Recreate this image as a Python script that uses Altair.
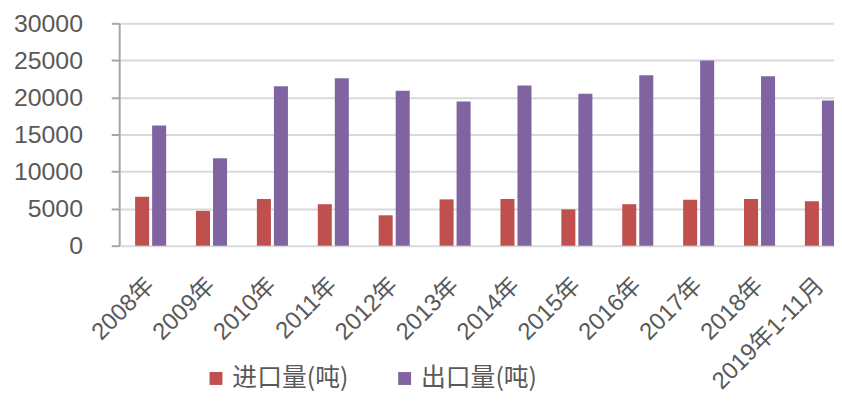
import altair as alt
import pandas as pd

categories = ["2008年", "2009年", "2010年", "2011年", "2012年", "2013年",
              "2014年", "2015年", "2016年", "2017年", "2018年", "2019年1-11月"]
imports = [6600, 4700, 6300, 5600, 4100, 6250, 6300, 4900, 5600, 6200, 6300, 6000]
exports = [16200, 11800, 21500, 22600, 20900, 19450, 21600, 20500, 23000, 25000, 22850, 19600]
series = ["进口量(吨)", "出口量(吨)"]
colors = ["#C0504D", "#8064A2"]
y_ticks = [0, 5000, 10000, 15000, 20000, 25000, 30000]

rows = []
for c, imp, exp in zip(categories, imports, exports):
    rows.append({"cat": c, "series": series[0], "value": imp})
    rows.append({"cat": c, "series": series[1], "value": exp})
df = pd.DataFrame(rows)

font = "Liberation Sans, Arial, Noto Sans CJK SC"

chart = alt.Chart(df).mark_bar().encode(
    x=alt.X("cat:N", sort=categories, title=None,
            scale=alt.Scale(range=[1, 737], paddingInner=0.49, paddingOuter=0.245),
            axis=alt.Axis(labelAngle=-45, labelAlign="right", labelBaseline="middle",
                          labelPadding=36, ticks=False, tickSize=0, domain=False,
                          labelFont=font, labelFontSize=24, labelColor="#595959",
                          labelLimit=400)),
    xOffset=alt.XOffset("series:N", sort=series,
                        scale=alt.Scale(paddingInner=0.176, paddingOuter=0)),
    y=alt.Y("value:Q", title=None,
            scale=alt.Scale(domain=[0, 30000], nice=False),
            axis=alt.Axis(values=y_ticks, format="d", grid=True, gridColor="#d9d9d9",
                          gridWidth=2, domainColor="#a6a6a6", domainWidth=2,
                          tickColor="#a6a6a6", tickWidth=2, tickSize=8,
                          labelPadding=29, labelFont=font, labelFontSize=25,
                          labelColor="#595959")),
    color=alt.Color("series:N", sort=series,
                    scale=alt.Scale(domain=series, range=colors),
                    legend=alt.Legend(title=None, orient="none", legendX=85, legendY=345,
                                      direction="horizontal", symbolType="square",
                                      symbolSize=169, symbolStrokeWidth=0,
                                      labelFont="Noto Sans CJK SC", labelFontSize=25,
                                      labelColor="#595959", labelOffset=4,
                                      columnPadding=44)),
).properties(
    width=720,
    height=224,
    autosize=alt.AutoSizeParams(type="none"),
    padding={"left": 112, "top": 14, "right": 0, "bottom": 155},
).configure_view(strokeWidth=0)

chart.save("out.html", embed_options={"renderer": "svg", "actions": False})
